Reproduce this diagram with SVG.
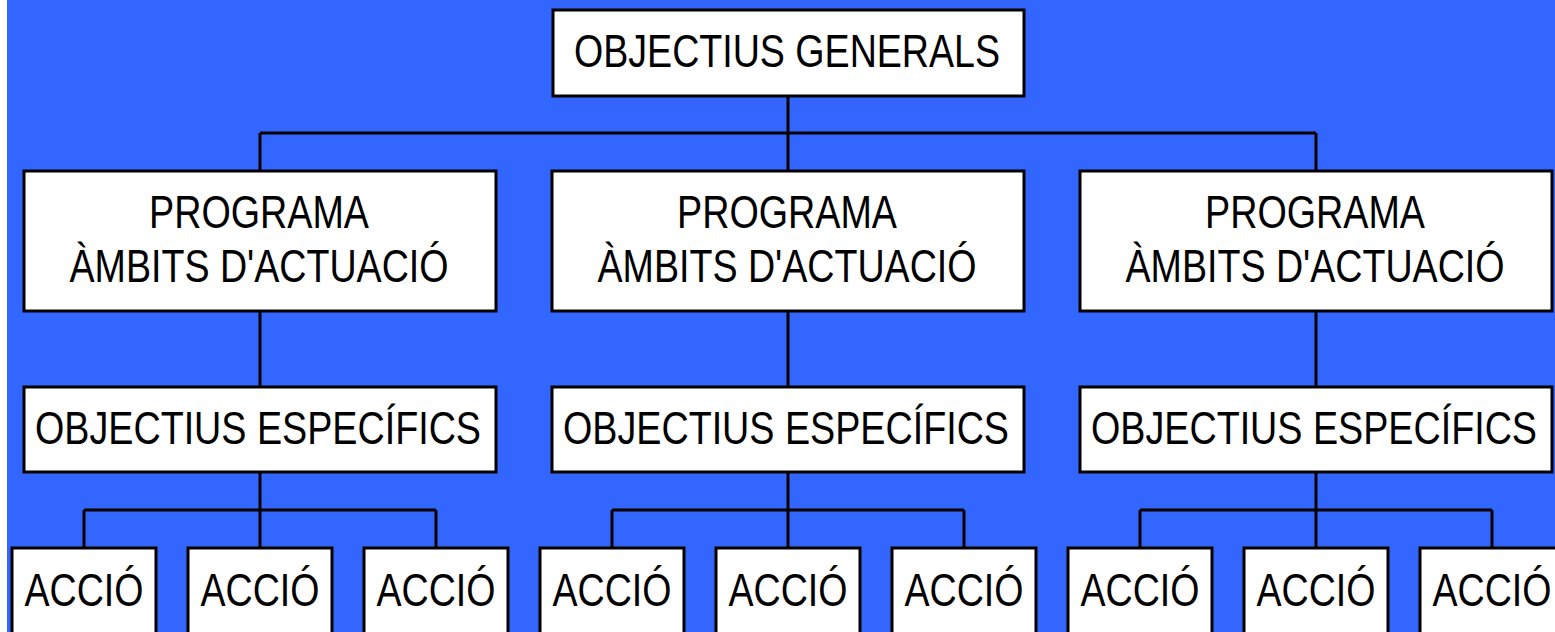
<svg xmlns="http://www.w3.org/2000/svg" width="1555" height="632" viewBox="0 0 1555 632">
<style>
.box{fill:#ffffff;stroke:#000000;stroke-width:3}
.lbl{font-family:"Liberation Sans",Arial,sans-serif;font-size:46px;fill:#000000;text-anchor:middle}
.con{fill:none;stroke:#000000;stroke-width:3}
</style>
<rect x="0" y="0" width="1555" height="632" fill="#ffffff"/>
<rect x="7" y="0" width="1548" height="632" fill="#3366ff"/>
<g id="connectors">
<path class="con" d="M788 96V133M260 133H1316M260 133V171M788 133V171M1316 133V171"/>
<path class="con" d="M260 311V387M788 311V387M1316 311V387"/>
<path class="con" d="M260 472V548M84 510H436M84 510V548M436 510V548"/>
<path class="con" d="M788 472V548M612 510H964M612 510V548M964 510V548"/>
<path class="con" d="M1316 472V548M1140 510H1492M1140 510V548M1492 510V548"/>
</g>
<g id="general">
<rect class="box" x="553" y="10" width="471" height="86"/>
<text class="lbl" x="787" y="67" textLength="426" lengthAdjust="spacingAndGlyphs">OBJECTIUS GENERALS</text>
</g>
<g id="programa1">
<rect class="box" x="24" y="171" width="472" height="140"/>
<text class="lbl" x="259" y="228" textLength="220" lengthAdjust="spacingAndGlyphs">PROGRAMA</text>
<text class="lbl" x="259" y="282" textLength="379" lengthAdjust="spacingAndGlyphs">ÀMBITS D'ACTUACIÓ</text>
</g>
<g id="programa2">
<rect class="box" x="552" y="171" width="472" height="140"/>
<text class="lbl" x="787" y="228" textLength="220" lengthAdjust="spacingAndGlyphs">PROGRAMA</text>
<text class="lbl" x="787" y="282" textLength="379" lengthAdjust="spacingAndGlyphs">ÀMBITS D'ACTUACIÓ</text>
</g>
<g id="programa3">
<rect class="box" x="1080" y="171" width="472" height="140"/>
<text class="lbl" x="1315" y="228" textLength="220" lengthAdjust="spacingAndGlyphs">PROGRAMA</text>
<text class="lbl" x="1315" y="282" textLength="379" lengthAdjust="spacingAndGlyphs">ÀMBITS D'ACTUACIÓ</text>
</g>
<g id="especifics1">
<rect class="box" x="24" y="387" width="472" height="85"/>
<text class="lbl" x="258" y="444" textLength="446" lengthAdjust="spacingAndGlyphs">OBJECTIUS ESPECÍFICS</text>
</g>
<g id="especifics2">
<rect class="box" x="552" y="387" width="472" height="85"/>
<text class="lbl" x="786" y="444" textLength="446" lengthAdjust="spacingAndGlyphs">OBJECTIUS ESPECÍFICS</text>
</g>
<g id="especifics3">
<rect class="box" x="1080" y="387" width="472" height="85"/>
<text class="lbl" x="1314" y="444" textLength="446" lengthAdjust="spacingAndGlyphs">OBJECTIUS ESPECÍFICS</text>
</g>
<g id="accio1"><rect class="box" x="12" y="548" width="144" height="100"/><text class="lbl" x="84" y="606" textLength="119" lengthAdjust="spacingAndGlyphs">ACCIÓ</text></g>
<g id="accio2"><rect class="box" x="188" y="548" width="144" height="100"/><text class="lbl" x="260" y="606" textLength="119" lengthAdjust="spacingAndGlyphs">ACCIÓ</text></g>
<g id="accio3"><rect class="box" x="364" y="548" width="144" height="100"/><text class="lbl" x="436" y="606" textLength="119" lengthAdjust="spacingAndGlyphs">ACCIÓ</text></g>
<g id="accio4"><rect class="box" x="540" y="548" width="144" height="100"/><text class="lbl" x="612" y="606" textLength="119" lengthAdjust="spacingAndGlyphs">ACCIÓ</text></g>
<g id="accio5"><rect class="box" x="716" y="548" width="144" height="100"/><text class="lbl" x="788" y="606" textLength="119" lengthAdjust="spacingAndGlyphs">ACCIÓ</text></g>
<g id="accio6"><rect class="box" x="892" y="548" width="144" height="100"/><text class="lbl" x="964" y="606" textLength="119" lengthAdjust="spacingAndGlyphs">ACCIÓ</text></g>
<g id="accio7"><rect class="box" x="1068" y="548" width="144" height="100"/><text class="lbl" x="1140" y="606" textLength="119" lengthAdjust="spacingAndGlyphs">ACCIÓ</text></g>
<g id="accio8"><rect class="box" x="1244" y="548" width="144" height="100"/><text class="lbl" x="1316" y="606" textLength="119" lengthAdjust="spacingAndGlyphs">ACCIÓ</text></g>
<g id="accio9"><rect class="box" x="1420" y="548" width="144" height="100"/><text class="lbl" x="1492" y="606" textLength="119" lengthAdjust="spacingAndGlyphs">ACCIÓ</text></g>
</svg>
